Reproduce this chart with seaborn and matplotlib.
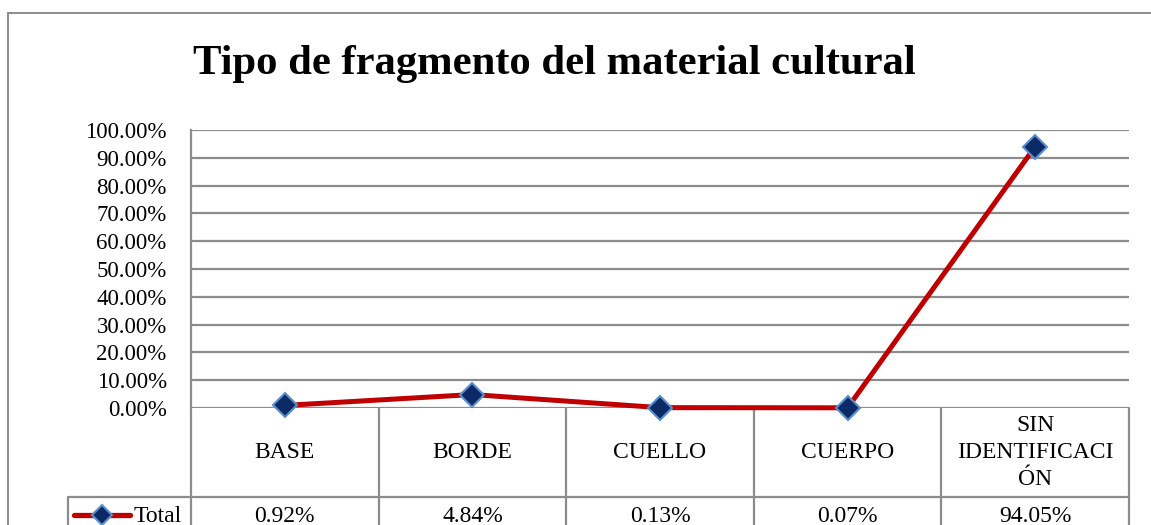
import matplotlib
matplotlib.use("Agg")
import matplotlib.pyplot as plt
import seaborn as sns
import pandas as pd
from matplotlib.patches import Rectangle
from matplotlib.lines import Line2D

# Data
categories = ["BASE", "BORDE", "CUELLO", "CUERPO", "SIN\nIDENTIFICACI\nÓN"]
values = [0.92, 4.84, 0.13, 0.07, 94.05]
series_name = "Total"
y_ticks = [0, 10, 20, 30, 40, 50, 60, 70, 80, 90, 100]

sns.set_style("white")
plt.rcParams["font.family"] = ["Liberation Serif", "DejaVu Serif"]
plt.rcParams["text.color"] = "black"
plt.rcParams["ytick.color"] = "black"

W, H = 1151, 525
fig = plt.figure(figsize=(W / 100, H / 100), dpi=100)

# plot area in pixels
left, right, top, bottom = 191, 1129, 130, 408
ax = fig.add_axes([left / W, 1 - bottom / H, (right - left) / W, (bottom - top) / H])

grid_col = "#8c8c8c"
red = "#C00000"
navy = "#0B2A66"
edge_blue = "#5B8FCC"

df = pd.DataFrame({"pos": range(len(categories)), "val": values})
sns.lineplot(data=df, x="pos", y="val", ax=ax, color=red, linewidth=3.6,
             marker="D", markersize=12, markerfacecolor=navy,
             markeredgecolor=edge_blue, markeredgewidth=1.5, clip_on=False, zorder=5)

ax.set_xlim(-0.5, len(categories) - 0.5)
ax.set_ylim(0, 100)
ax.set_yticks(y_ticks)
ax.set_yticklabels([f"{t:.2f}%" for t in y_ticks], fontsize=16.5)
ax.tick_params(axis="y", length=0, pad=17.5)
ax.set_xticks([])
ax.set_xlabel("")
ax.set_ylabel("")
for t in y_ticks:
    ax.axhline(t, color=grid_col, lw=1.6, zorder=1)
for s in ["top", "right", "bottom"]:
    ax.spines[s].set_visible(False)
ax.spines["left"].set_color(grid_col)
ax.spines["left"].set_linewidth(1.6)

# data table below the plot area (axes fraction coordinates)
ph = bottom - top
pw = right - left
def ay(py):
    return (bottom - py) / ph
def axf(px):
    return (px - left) / pw

row1 = 497
row2 = 540
leg_left = 68
lkw = dict(color=grid_col, lw=1.6, transform=ax.transAxes, clip_on=False)
for i in range(len(categories) + 1):
    ax.add_line(Line2D([i / len(categories)] * 2, [0, ay(row2)], **lkw))
ax.add_line(Line2D([axf(leg_left), 1], [ay(row1)] * 2, **lkw))
ax.add_line(Line2D([axf(leg_left)] * 2, [ay(row1), ay(row2)], **lkw))

for i, (c, v) in enumerate(zip(categories, values)):
    xc = (i + 0.5) / len(categories)
    ax.text(xc, ay((bottom + row1) / 2), c, ha="center", va="center",
            fontsize=17, linespacing=1.35, transform=ax.transAxes)
    ax.text(xc, ay(516), f"{v:.2f}%", ha="center", va="center",
            fontsize=17, transform=ax.transAxes)

# legend key in the table
ax.add_line(Line2D([axf(74), axf(130)], [ay(515)] * 2, color=red, lw=3.8,
                   transform=ax.transAxes, clip_on=False))
ax.add_line(Line2D([axf(102)], [ay(515)], marker="D", markersize=10,
                   markerfacecolor=navy, markeredgecolor=edge_blue,
                   markeredgewidth=1.5, transform=ax.transAxes, clip_on=False))
ax.text(axf(134), ay(516), series_name, ha="left", va="center",
        fontsize=17, transform=ax.transAxes)

# title
fig.text(554 / W, 1 - 64 / H, "Tipo de fragmento del material cultural",
         ha="center", va="center", fontsize=30.7, fontweight="bold")

# outer chart border
fig.add_artist(Rectangle((8 / W, -0.1), 1.2, 1 - 13 / H + 0.1,
                         transform=fig.transFigure, fill=False,
                         edgecolor=grid_col, lw=1.4))

fig.savefig("out.png", dpi=100)
